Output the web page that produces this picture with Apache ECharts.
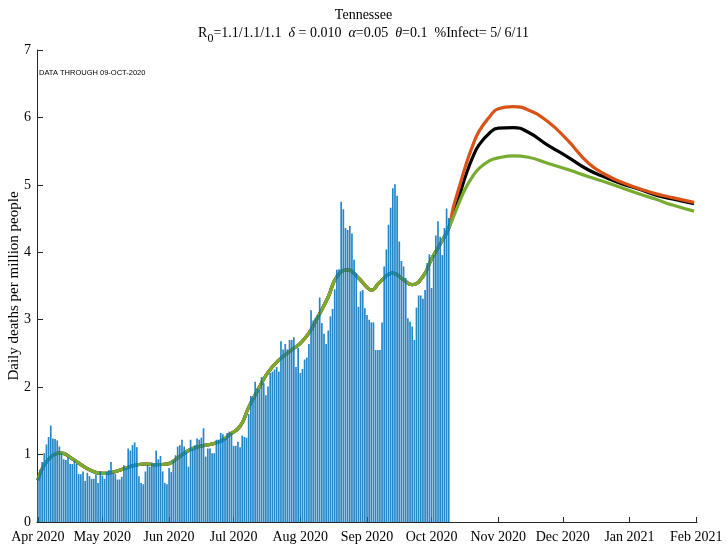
<!DOCTYPE html>
<html lang="en" style="height: 100%">
<head>
  <meta charset="utf-8">
  <title>Tennessee daily deaths</title>
</head>
<body style="height: 100%; margin: 0">
  <div id="container" style="height: 100%"></div>
  <script type="text/javascript" src="https://fastly.jsdelivr.net/npm/echarts@6.0.0/dist/echarts.min.js"></script>
  <script type="text/javascript">
    // daily deaths per million, one array per month (first value = 1st of month)
    const deathsApr = [0.67, 0.78, 0.89, 1.02, 1.15, 1.26, 1.43, 1.24, 1.23, 1.21, 1.12, 1.02, 0.93, 0.92, 0.96,
      0.86, 0.86, 0.91, 0.86, 0.71, 0.71, 0.75, 0.61, 0.73, 0.68, 0.64, 0.64, 0.71, 0.58, 0.75];
    const deathsMay = [0.69, 0.64, 0.74, 0.77, 0.89, 0.73, 0.71, 0.63, 0.63, 0.67, 0.84, 0.80, 1.09, 1.06, 1.14,
      1.18, 1.11, 0.68, 0.58, 0.56, 0.75, 0.84, 0.82, 0.87, 0.87, 1.06, 0.93, 0.98, 0.75, 0.58, 0.56];
    const deathsJun = [0.80, 0.74, 0.92, 0.99, 1.12, 1.14, 1.22, 1.12, 1.04, 0.82, 1.22, 1.09, 1.14, 1.24, 1.22,
      1.25, 1.39, 0.97, 1.09, 1.09, 1.02, 1.02, 1.22, 1.22, 1.32, 1.30, 1.24, 1.32, 1.34, 1.32];
    const deathsJul = [1.13, 1.13, 1.19, 1.11, 1.28, 1.26, 1.25, 1.60, 1.87, 1.85, 2.08, 1.98, 1.96, 2.15, 2.06,
      1.88, 2.01, 2.21, 2.23, 2.26, 2.30, 2.23, 2.68, 2.56, 2.64, 2.56, 2.70, 2.70, 2.74, 2.30, 2.58];
    const deathsAug = [2.21, 2.27, 2.41, 2.44, 2.64, 3.14, 2.99, 3.03, 3.07, 3.33, 2.95, 2.79, 2.64, 2.84, 3.05,
      3.16, 3.45, 3.74, 3.75, 4.75, 4.64, 4.36, 4.33, 4.39, 4.28, 3.89, 3.69, 3.19, 3.42, 3.44, 3.17];
    const deathsSep = [3.07, 3.00, 2.96, 2.96, 2.55, 2.55, 2.55, 2.96, 3.79, 4.04, 4.41, 4.66, 4.95, 5.01, 4.84,
      4.16, 3.87, 3.79, 3.62, 3.02, 2.97, 2.90, 2.70, 3.18, 3.36, 3.36, 3.31, 3.44, 3.84, 3.97];
    const deathsOct = [3.47, 3.96, 4.25, 4.46, 4.23, 3.96, 4.36, 4.65, 4.51];

    // fitted curve over the data period (all three scenarios coincide)
    const fitDates = ['2020-04-01', '2020-04-06', '2020-04-12', '2020-04-16', '2020-04-21', '2020-04-26',
      '2020-05-01', '2020-05-06', '2020-05-11', '2020-05-16', '2020-05-21', '2020-05-26', '2020-05-31',
      '2020-06-05', '2020-06-10', '2020-06-15', '2020-06-20', '2020-06-25', '2020-06-29', '2020-07-04',
      '2020-07-08', '2020-07-13', '2020-07-17', '2020-07-22', '2020-07-27', '2020-08-01', '2020-08-05',
      '2020-08-09', '2020-08-14', '2020-08-18', '2020-08-23', '2020-08-28', '2020-09-01', '2020-09-03',
      '2020-09-07', '2020-09-13', '2020-09-18', '2020-09-22', '2020-09-27', '2020-10-01', '2020-10-05',
      '2020-10-09'];
    const fitValues = [0.62, 0.93, 1.02, 0.96, 0.85, 0.76, 0.72, 0.74, 0.79, 0.84, 0.86, 0.85, 0.86,
      0.95, 1.06, 1.12, 1.15, 1.20, 1.29, 1.42, 1.70, 2.00, 2.22, 2.40, 2.53, 2.65, 2.80,
      3.03, 3.34, 3.64, 3.74, 3.62, 3.48, 3.44, 3.56, 3.69, 3.59, 3.52, 3.64, 3.90, 4.12, 4.36];

    // projections after the data end
    const projDates = ['2020-10-11', '2020-10-14', '2020-10-17', '2020-10-20', '2020-10-23', '2020-10-28',
      '2020-11-01', '2020-11-08', '2020-11-15', '2020-11-24', '2020-12-03', '2020-12-13', '2020-12-21',
      '2020-12-29', '2021-01-06', '2021-01-13', '2021-01-21', '2021-01-31'];
    const projBlack = [4.58, 4.85, 5.15, 5.40, 5.59, 5.77, 5.84, 5.85, 5.78, 5.59, 5.42, 5.22, 5.11,
      5.01, 4.93, 4.85, 4.79, 4.72];
    const projOrange = [4.65, 4.98, 5.30, 5.57, 5.79, 6.01, 6.13, 6.16, 6.11, 5.94, 5.67, 5.32, 5.15,
      5.03, 4.94, 4.87, 4.81, 4.74];
    const projGreen = [4.51, 4.75, 4.96, 5.12, 5.24, 5.36, 5.40, 5.43, 5.41, 5.32, 5.23, 5.12, 5.04,
      4.95, 4.86, 4.79, 4.70, 4.61];

    const monthStarts = ['2020-04-01', '2020-05-01', '2020-06-01', '2020-07-01', '2020-08-01', '2020-09-01',
      '2020-10-01', '2020-11-01', '2020-12-01', '2021-01-01', '2021-02-01'];

    function toTime(s) {
      const p = s.split('-').map(Number);
      return new Date(p[0], p[1] - 1, p[2]).getTime();
    }

    const barData = [];
    [deathsApr, deathsMay, deathsJun, deathsJul, deathsAug, deathsSep, deathsOct].forEach(function (arr, m) {
      arr.forEach(function (v, i) {
        barData.push([new Date(2020, 3 + m, 1 + i).getTime(), v]);
      });
    });

    const hist = fitDates.map((d, i) => [toTime(d), fitValues[i]]);
    function curve(proj) {
      return hist.concat(projDates.map((d, i) => [toTime(d), proj[i]]));
    }

    const tickTimes = monthStarts.map(toTime);
    const serif = 'Liberation Serif';

    var dom = document.getElementById('container');
    var myChart = echarts.init(dom, null, { renderer: 'canvas' });

    function lineSeries(data, color, z) {
      return {
        type: 'line',
        data: data,
        smooth: 0.5,
        showSymbol: false,
        z: z,
        lineStyle: { color: color, width: 3.2 },
        itemStyle: { color: color }
      };
    }

    var option = {
      animation: false,
      backgroundColor: '#fff',
      title: {
        text: 'Tennessee',
        left: 'center',
        top: 3,
        itemGap: 4,
        textStyle: { fontFamily: serif, fontSize: 14, fontWeight: 'normal', color: '#000' },
        subtext: '{n|R}{s|0}{n|=1.1/1.1/1.1  }{i|δ}{n| = 0.010  }{i|α}{n|=0.05  }{i|θ}{n|=0.1  %Infect= 5/ 6/11}',
        subtextStyle: {
          rich: {
            n: { fontFamily: serif, fontSize: 14, color: '#000', verticalAlign: 'top', lineHeight: 16 },
            i: { fontFamily: serif, fontSize: 14, fontStyle: 'italic', color: '#000', verticalAlign: 'top', lineHeight: 16 },
            s: { fontFamily: serif, fontSize: 12, color: '#000', verticalAlign: 'top', lineHeight: 14, padding: [7, 0, 0, 0] }
          }
        }
      },
      graphic: [{
        type: 'text',
        left: 39,
        top: 69,
        style: { text: 'DATA THROUGH 09-OCT-2020', font: '7.5px "Liberation Sans"', fill: '#000' }
      }],
      grid: { left: 37, right: 30, top: 50, bottom: 24, containLabel: false, outerBoundsMode: 'none' },
      xAxis: {
        type: 'time',
        min: tickTimes[0],
        max: tickTimes[tickTimes.length - 1],
        splitLine: { show: false },
        axisLine: { lineStyle: { color: '#262626', width: 1 } },
        axisTick: { show: true, inside: true, length: 5, customValues: tickTimes, lineStyle: { color: '#262626' } },
        axisLabel: {
          customValues: tickTimes,
          formatter: '{MMM} {yyyy}',
          fontFamily: serif,
          fontSize: 14,
          color: '#000',
          margin: 8,
          hideOverlap: false
        }
      },
      yAxis: {
        type: 'value',
        min: 0,
        max: 7,
        interval: 1,
        name: 'Daily deaths per million people',
        nameLocation: 'middle',
        nameGap: 15,
        nameMoveOverlap: false,
        nameTextStyle: { fontFamily: serif, fontSize: 15, color: '#000' },
        splitLine: { show: false },
        axisLine: { show: true, lineStyle: { color: '#262626', width: 1 } },
        axisTick: { show: true, inside: true, length: 6, lineStyle: { color: '#262626' } },
        axisLabel: { fontFamily: serif, fontSize: 14, color: '#000', margin: 6 }
      },
      series: [
        lineSeries(curve(projBlack), '#000000', 1),
        lineSeries(curve(projOrange), '#D95319', 2),
        lineSeries(curve(projGreen), '#77AC30', 3),
        {
          type: 'bar',
          data: barData,
          barWidth: 1.7,
          z: 4,
          itemStyle: { color: '#0072BD', opacity: 0.85 }
        }
      ]
    };

    if (option && typeof option === 'object') {
      myChart.setOption(option);
    }

    window.addEventListener('resize', myChart.resize);
  </script>
</body>
</html>
